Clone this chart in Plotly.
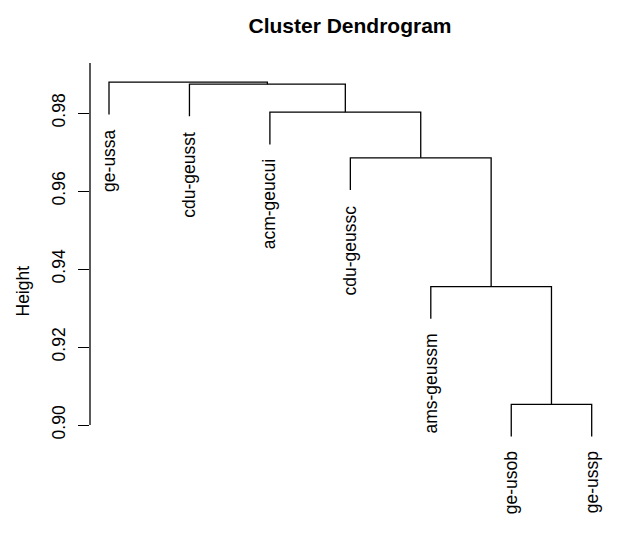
import plotly.graph_objects as go

# ---- data (hclust-style) ----
labels = ["ge-ussa", "cdu-geusst", "acm-geucui", "cdu-geussc", "ams-geussm", "ge-usob", "ge-ussp"]
# merge steps: negative = leaf (1-based index into labels), positive = earlier merge step
merge_left = [-6, -5, -4, -3, -2, -1]
merge_right = [-7, 1, 2, 3, 4, 5]
merge_height = [0.9053, 0.9355, 0.9685, 0.9802, 0.9874, 0.9879]

tick_vals = [0.90, 0.92, 0.94, 0.96, 0.98]
tick_text = ["0.90", "0.92", "0.94", "0.96", "0.98"]

# ---- build dendrogram geometry ----
hang = 0.1 * (max(merge_height) - min(merge_height))
leaf_x = {i + 1: float(i + 1) for i in range(len(labels))}
node_x = {}

def child_info(c, h):
    if c < 0:
        return leaf_x[-c], h - hang
    return node_x[c], merge_height[c - 1]

xs, ys = [], []
leaf_end = {}
for k, (l, r, h) in enumerate(zip(merge_left, merge_right, merge_height), start=1):
    xl, yl = child_info(l, h)
    xr, yr = child_info(r, h)
    if l < 0:
        leaf_end[-l] = yl
    if r < 0:
        leaf_end[-r] = yr
    xs += [xl, xl, xr, xr, None]
    ys += [yl, h, h, yr, None]
    node_x[k] = (xl + xr) / 2

FONT = "Liberation Sans, Arial, sans-serif"
fig = go.Figure()
fig.add_trace(go.Scatter(x=xs, y=ys, mode="lines",
                         line=dict(color="black", width=1.3),
                         hoverinfo="skip", showlegend=False))

y_top = 0.992821
y_bot = 0.875641

# y axis line (from lowest tick up to top of plot region)
fig.add_shape(type="line", xref="paper", yref="y", x0=0, x1=0,
              y0=tick_vals[0], y1=y_top, line=dict(color="black", width=1.3))

for i, lab in enumerate(labels, start=1):
    fig.add_annotation(x=leaf_x[i], y=leaf_end[i], text=lab, textangle=-90,
                       showarrow=False, xanchor="center", yanchor="top",
                       yshift=-13, font=dict(family=FONT, size=17.5, color="black"))

fig.add_annotation(xref="paper", yref="paper", x=(22 - 90) / 520, y=0.5,
                   text="Height", textangle=-90, showarrow=False,
                   xanchor="center", yanchor="middle",
                   font=dict(family=FONT, size=17.5, color="black"))

W, H = 609, 529
fig.update_layout(
    width=W, height=H,
    margin=dict(l=82, r=7, t=55, b=17),
    paper_bgcolor="white", plot_bgcolor="white",
    title=dict(text="Cluster Dendrogram", x=0.5, xref="paper",
               y=1 - 18 / H, yref="container", yanchor="middle", xanchor="center",
               font=dict(family=FONT, size=21, color="black", weight="bold")),
    xaxis=dict(range=[0.7638, 7.2275], showgrid=False, zeroline=False,
               showticklabels=False, ticks="", showline=False, fixedrange=True),
    yaxis=dict(range=[y_bot, y_top], showgrid=False, zeroline=False, showline=False,
               tickvals=tick_vals, ticktext=tick_text, tickangle=-90,
               ticks="outside", ticklen=11, tickwidth=1.3, tickcolor="black",
               ticklabelstandoff=6,
               tickfont=dict(family=FONT, size=17.5, color="black")),
)

fig.write_html("out.html")
